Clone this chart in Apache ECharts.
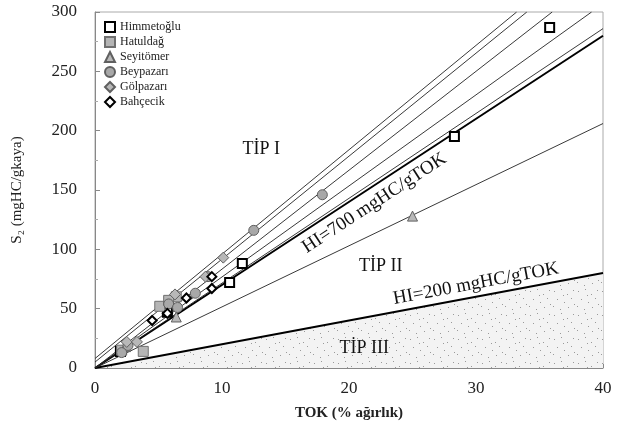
<!DOCTYPE html>
<html><head><meta charset="utf-8">
<script src="https://cdn.jsdelivr.net/npm/echarts@6/dist/echarts.min.js"></script>
<style>html,body{margin:0;padding:0;background:#fff}#c{width:624px;height:433px}</style>
</head><body><div id="c"></div>
<script>
var xTicks = [0, 10, 20, 30, 40];
var yTicks = [0, 50, 100, 150, 200, 250, 300];
var himmetoglu = [[2.0,14],[5.7,47],[10.6,72],[11.6,88],[28.3,195],[35.8,287]];
var hatuldag = [[2.1,15],[3.8,14],[5.1,52],[6.4,60],[5.8,57]];
var seyitomer = [[2.4,18],[6.4,43],[25.0,128]];
var beypazari = [[2.1,13],[2.6,19],[5.8,54],[6.5,51],[7.9,63],[8.9,77],[12.5,116],[17.9,146]];
var golpazari = [[2.5,22],[3.3,22],[6.3,62],[8.7,77],[10.1,93]];
var bahcecik = [[4.5,40],[5.7,46],[7.2,59],[9.2,67],[9.2,77]];
var hi700 = [[0,0],[40,280]];
var hi200 = [[0,0],[40,80]];
var regLines = [
  [[0,8],[33.2,300]],
  [[0,5],[34.0,300]],
  [[0,0],[36.0,300]],
  [[0,0],[39.1,300]],
  [[0,0],[40,286]],
  [[0,0],[40,206]]
];
var labels = [
  {text:'TİP I', x:13.1, y:184, size:18, rot:0},
  {text:'TİP II', x:22.5, y:86, size:18, rot:0},
  {text:'TİP III', x:21.2, y:17, size:18, rot:0},
  {text:'HI=700 mgHC/gTOK', x:22.0, y:139, size:19, rot:33.2},
  {text:'HI=200 mgHC/gTOK', x:30.0, y:71, size:19, rot:10.6}
];

var FONT = '"Liberation Serif", "DejaVu Serif", serif';
var pc = document.createElement('canvas');
pc.width = 24; pc.height = 24;
var pctx = pc.getContext('2d');
pctx.fillStyle = '#f3f3f3'; pctx.fillRect(0,0,24,24);
pctx.fillStyle = '#9a9a9a';
var dots = [[2,3],[9,1],[15,6],[21,2],[5,11],[12,14],[19,10],[1,18],[8,21],[16,19],[22,16],[11,7]];
dots.forEach(function(d){ pctx.fillRect(d[0], d[1], 1, 1); });

var chart = echarts.init(document.getElementById('c'));
var series = [];
series.push({name:'HI200', type:'line', data:hi200, symbol:'none', silent:true,
  lineStyle:{color:'#000', width:2}, areaStyle:{color:{image:pc, repeat:'repeat'}, opacity:1}, z:1});
series.push({name:'HI700', type:'line', data:hi700, symbol:'none', silent:true,
  lineStyle:{color:'#000', width:2}, z:2});
regLines.forEach(function(l, i){
  series.push({name:'reg'+i, type:'line', data:l, symbol:'none', silent:true,
    lineStyle:{color:'#222', width:0.9}, z:2});
});
function sc(name, data, symbol, fill, border, bw, size){
  return {name:name, type:'scatter', data:data, symbol:symbol, symbolSize:size,
    itemStyle:{color:fill, borderColor:border, borderWidth:bw, opacity:1}, z:5};
}
series.push(sc('Himmetoğlu', himmetoglu, 'rect', '#fff', '#000', 2, 9));
series.push(sc('Hatuldağ', hatuldag, 'rect', '#b5b5b5', '#707070', 1, 10));
series.push(sc('Seyitömer', seyitomer, 'triangle', '#b8b8b8', '#606060', 1, 10));
series.push(sc('Beypazarı', beypazari, 'circle', '#a8a8a8', '#606060', 1, 10));
series.push(sc('Gölpazarı', golpazari, 'diamond', '#b8b8b8', '#606060', 1, 11));
series.push(sc('Bahçecik', bahcecik, 'diamond', '#fff', '#000', 2, 9));

chart.setOption({
  animation:false,
  backgroundColor:'#fff',
  textStyle:{fontFamily:FONT},
  grid:{left:95, right:21, top:12, bottom:65, show:true, borderColor:'#aaa', borderWidth:1},
  legend:{
    data:['Himmetoğlu','Hatuldağ','Seyitömer','Beypazarı','Gölpazarı','Bahçecik'],
    orient:'vertical', left:99, top:16, itemGap:3, itemWidth:10, itemHeight:10,
    textStyle:{fontFamily:FONT, fontSize:12, color:'#222'}
  },
  xAxis:{type:'value', min:0, max:40, interval:10,
    name:'TOK (% ağırlık)', nameLocation:'middle', nameGap:38,
    nameTextStyle:{fontFamily:FONT, fontSize:15, fontWeight:'bold', color:'#222'},
    axisLine:{show:true, lineStyle:{color:'#888'}},
    axisTick:{show:true, inside:true, length:4, lineStyle:{color:'#888'}},
    minorTick:{show:true, splitNumber:2, length:3, lineStyle:{color:'#aaa'}},
    splitLine:{show:false},
    axisLabel:{fontFamily:FONT, fontSize:17, color:'#222', margin:12,
      formatter:function(v){ return xTicks.indexOf(v) >= 0 ? String(v) : ''; }}
  },
  yAxis:{type:'value', min:0, max:300, interval:50,
    name:'S₂ (mgHC/gkaya)', nameLocation:'middle', nameGap:70,
    nameTextStyle:{fontFamily:FONT, fontSize:15, color:'#222'},
    axisLine:{show:true, lineStyle:{color:'#888'}},
    axisTick:{show:true, inside:true, length:5, lineStyle:{color:'#888'}},
    minorTick:{show:true, splitNumber:2, length:3, lineStyle:{color:'#aaa'}},
    splitLine:{show:false},
    axisLabel:{fontFamily:FONT, fontSize:17, color:'#222', margin:18,
      formatter:function(v){ return yTicks.indexOf(v) >= 0 ? String(v) : ''; }}
  },
  series:series
});

var g = labels.map(function(l){
  var p = chart.convertToPixel({gridIndex:0}, [l.x, l.y]);
  return {type:'text', x:p[0], y:p[1], rotation:l.rot*Math.PI/180, z:10,
    style:{text:l.text, fontFamily:FONT, fontSize:l.size, fill:'#111', align:'center', verticalAlign:'middle'}};
});
chart.setOption({graphic:g});
</script></body></html>
